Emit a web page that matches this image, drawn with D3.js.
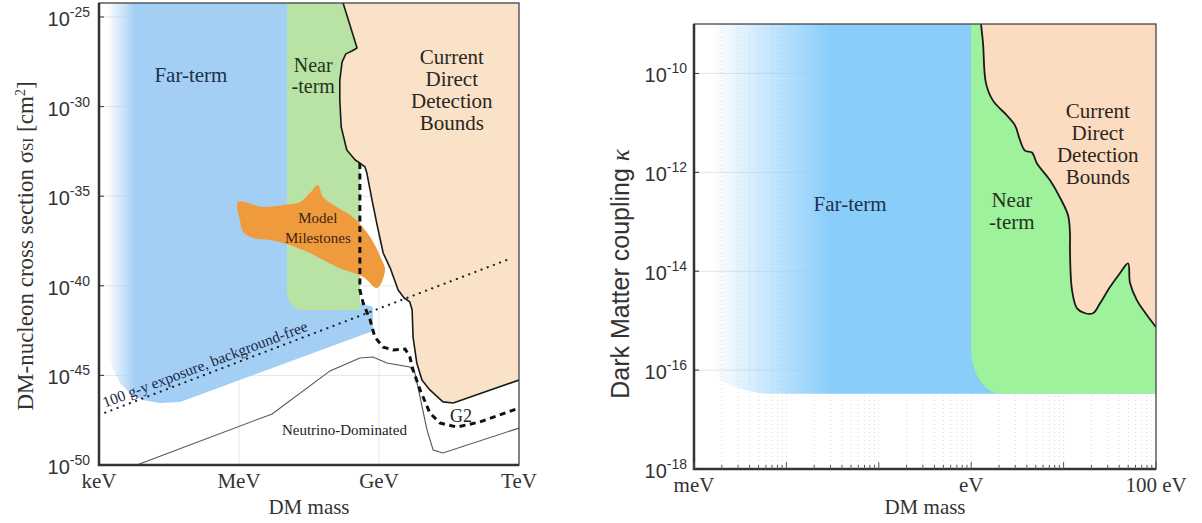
<!DOCTYPE html>
<html>
<meta charset="utf-8" />
<style>
body { margin: 0; background: #fff; }
text { font-family: "Liberation Serif", "Times New Roman", serif; }
.sans { font-family: "Liberation Sans", Arial, sans-serif; }
</style>
<svg width="1202" height="523"></svg>
<script src="https://d3js.org/d3.v7.min.js"></script>
<script>
// ---------- data (all values are log10) ----------
// left panel: DM mass in eV, cross section in cm^2
var leftMassTicks = [3, 6, 9, 12];
var leftMassLabels = ["keV", "MeV", "GeV", "TeV"];
var leftSigmaTicks = [-25, -30, -35, -40, -45, -50];
var leftDomainX = [3, 12];
var leftDomainY = [-50, -24.22];

var currentBoundsLeft = [[8.23,-24.22],[8.53,-26.73],[8.42,-26.90],[8.29,-27.06],[8.21,-27.51],[8.16,-28.52],
  [8.16,-29.63],[8.19,-31.14],[8.31,-32.42],[8.49,-32.98],[8.59,-33.15],[8.70,-33.37],[8.74,-33.71],
  [8.85,-35.21],[8.96,-36.61],[9.09,-38.17],[9.24,-39.01],[9.41,-40.23],[9.54,-40.68],[9.66,-40.90],
  [9.71,-41.35],[9.73,-42.86],[9.81,-44.31],[9.92,-45.26],[10.09,-45.81],[10.37,-46.48],[10.59,-46.54],
  [12,-45.26]];
var g2Line = [[8.59,-33.15],[8.59,-40.23],[8.66,-40.96],[8.81,-41.91],[8.91,-42.86],[9.09,-43.42],
  [9.30,-43.58],[9.56,-43.53],[9.66,-43.97],[9.73,-44.70],[9.88,-45.81],[10.09,-47.10],[10.31,-47.66],
  [10.67,-47.88],[11.16,-47.60],[12,-46.82]];
var neutrinoLine = [[3.81,-50],[6.71,-47.15],[7.95,-44.75],[8.59,-44.03],[8.87,-43.97],[9.17,-44.31],
  [9.66,-44.53],[9.77,-44.87],[10.03,-48.05],[10.16,-49.16],[10.37,-49.33],[12,-47.94]];
var milestones = [[5.98,-35.32],[6.51,-35.60],[6.94,-35.49],[7.31,-35.32],[7.52,-34.82],[7.69,-34.37],
  [7.80,-35.04],[8.10,-35.60],[8.44,-36.16],[8.81,-37.28],[9.06,-38.56],[9.13,-39.12],[8.96,-40.12],
  [8.66,-39.51],[8.10,-38.95],[7.52,-38.17],[7.09,-37.72],[6.66,-37.44],[6.30,-37.33],[6.09,-37.00],
  [6.02,-36.33]];
var exposureLine = [[3,-47.21],[11.85,-38.45]];
var farTermLeft = [[3,-24.22],[8.59,-24.22],[8.59,-40.96],[8.87,-41.18],[8.87,-42.52],[4.74,-46.48],
  [4.31,-46.54],[3.94,-46.37],[3.66,-45.98],[3.45,-45.42],[3.30,-44.70],[3.19,-43.86],[3.13,-43.02],
  [3,-43.02]];
var nearTermLeft = [7.03, 8.59, -41.35]; // mass from, mass to, lower sigma

// right panel: DM mass in eV, coupling kappa
var rightMassTicks = [-3, 0, 2];
var rightMassLabels = ["meV", "eV", "100 eV"];
var rightKappaTicks = [-10, -12, -14, -16, -18];
var rightDomainX = [-3, 2];
var rightDomainY = [-18, -9];
var currentBoundsRight = [[0.106,-9.0],[0.128,-9.39],[0.160,-10.20],[0.236,-10.55],[0.387,-10.85],
  [0.474,-11.05],[0.528,-11.35],[0.582,-11.56],[0.658,-11.60],[0.712,-11.82],[0.853,-12.16],
  [0.961,-12.51],[1.048,-12.87],[1.069,-13.23],[1.069,-13.58],[1.091,-14.38],[1.145,-14.75],
  [1.232,-14.85],[1.318,-14.85],[1.394,-14.65],[1.502,-14.32],[1.610,-14.04],[1.697,-13.84],
  [1.719,-14.24],[1.794,-14.59],[1.903,-14.89],[2.0,-15.13]];
var farTermRight = [-3, 2, -16.48];
var nearTermRight = [0, 2, -16.48];

// ---------- setup ----------
var svg = d3.select("svg");
var p10 = function(v) { return Math.pow(10, v); };
var defs = svg.append("defs");

function gradient(id, color, x1, x2) {
  var g = defs.append("linearGradient").attr("id", id)
    .attr("gradientUnits", "userSpaceOnUse")
    .attr("x1", x1).attr("x2", x2).attr("y1", 0).attr("y2", 0);
  g.append("stop").attr("offset", 0).attr("stop-color", color).attr("stop-opacity", 0);
  g.append("stop").attr("offset", 1).attr("stop-color", color).attr("stop-opacity", 1);
}

function roundedBL(x0, x1, y0, y1, rx, ry) {
  return "M" + x0 + "," + y0 + "H" + x1 + "V" + y1 + "H" + (x0 + rx) +
    "A" + rx + "," + ry + " 0 0 1 " + x0 + "," + (y1 - ry) + "Z";
}

function powLabel(g, x, y, exp) {
  var t = g.append("text").attr("class", "sans").attr("x", x).attr("y", y)
    .attr("text-anchor", "end").attr("fill", "#333").attr("font-size", 20);
  t.append("tspan").text("10");
  t.append("tspan").attr("dy", -9).attr("font-size", 14).text(exp);
}

function block(g, lines, x, y, size, color, lh) {
  var t = g.append("text").attr("text-anchor", "middle").attr("font-size", size).attr("fill", color);
  lines.forEach(function(s, i) { t.append("tspan").attr("x", x).attr("y", y + i * lh).text(s); });
  return t;
}

// ================= LEFT PANEL =================
var L = { left: 99, right: 519, top: 3, bottom: 465 };
var xL = d3.scaleLog().domain(leftDomainX.map(p10)).range([L.left, L.right]);
var yL = d3.scaleLog().domain(leftDomainY.map(p10)).range([L.bottom, L.top]);
var lineL = d3.line().x(function(d) { return xL(p10(d[0])); }).y(function(d) { return yL(p10(d[1])); });

gradient("fadeL", "#a3cff4", L.left + 8, L.left + 36);
defs.append("clipPath").attr("id", "clipL").append("rect")
  .attr("x", L.left).attr("y", L.top).attr("width", L.right - L.left).attr("height", L.bottom - L.top);

var gl = svg.append("g");
var pl = gl.append("g").attr("clip-path", "url(#clipL)");

// grid
pl.selectAll(".gx").data(leftMassTicks).enter().append("line")
  .attr("x1", function(d) { return xL(p10(d)); }).attr("x2", function(d) { return xL(p10(d)); })
  .attr("y1", L.top).attr("y2", L.bottom).attr("stroke", "#e6e6e6");
pl.selectAll(".gy").data(leftSigmaTicks).enter().append("line")
  .attr("y1", function(d) { return yL(p10(d)); }).attr("y2", function(d) { return yL(p10(d)); })
  .attr("x1", L.left).attr("x2", L.right).attr("stroke", "#e6e6e6");

// far-term
pl.append("path").attr("d", lineL(farTermLeft) + "Z").attr("fill", "url(#fadeL)");
// near-term
pl.append("path").attr("fill", "#b8e3a4")
  .attr("d", roundedBL(xL(p10(nearTermLeft[0])), xL(p10(nearTermLeft[1])), L.top,
    yL(p10(nearTermLeft[2])), 16, 18));
// current bounds
var boundsArea = currentBoundsLeft.concat([[12, leftDomainY[1]]]);
pl.append("path").attr("d", lineL(boundsArea) + "Z").attr("fill", "#fae2c8");
// model milestones
pl.append("path").attr("d", lineL.curve(d3.curveCatmullRomClosed)(milestones))
  .attr("fill", "#f09a3e");
lineL.curve(d3.curveLinear);

// neutrino floor
pl.append("path").attr("d", lineL(neutrinoLine)).attr("fill", "none")
  .attr("stroke", "#555").attr("stroke-width", 1.1);
// exposure dotted line
pl.append("path").attr("d", lineL(exposureLine)).attr("fill", "none")
  .attr("stroke", "#222").attr("stroke-width", 2.2).attr("stroke-linecap", "round")
  .attr("stroke-dasharray", "0.1,6.5");
// G2 dashed
pl.append("path").attr("d", lineL(g2Line)).attr("fill", "none")
  .attr("stroke", "#111").attr("stroke-width", 3).attr("stroke-dasharray", "6,4.5");
// bounds edge
pl.append("path").attr("d", lineL(currentBoundsLeft)).attr("fill", "none")
  .attr("stroke", "#1a1a1a").attr("stroke-width", 1.6).attr("stroke-linejoin", "round");

// labels inside left panel
block(gl, ["Far-term"], xL(p10(4.97)), yL(p10(-28.63)), 21, "#22304a", 0);
block(gl, ["Near", "-term"], xL(p10(7.59)), yL(p10(-28.07)), 20, "#24331f", 21);
block(gl, ["Current", "Direct", "Detection", "Bounds"], xL(p10(10.56)), yL(p10(-27.62)), 21, "#2b2520", 22);
block(gl, ["Model", "Milestones"], xL(p10(7.69)), yL(p10(-36.5)), 15, "#3a2412", 20);
gl.append("text").attr("x", xL(p10(6.92))).attr("y", yL(p10(-48.33)))
  .attr("font-size", 15).attr("fill", "#222").text("Neutrino-Dominated");
gl.append("text").attr("x", xL(p10(10.52))).attr("y", yL(p10(-47.6)))
  .attr("font-size", 18).attr("fill", "#222").text("G2");

var e0 = [xL(p10(exposureLine[0][0])), yL(p10(exposureLine[0][1]))];
var e1 = [xL(p10(exposureLine[1][0])), yL(p10(exposureLine[1][1]))];
var ang = Math.atan2(e1[1] - e0[1], e1[0] - e0[0]) * 180 / Math.PI;
var slope = (e1[1] - e0[1]) / (e1[0] - e0[0]);
gl.append("text")
  .attr("transform", "translate(" + (e0[0] + 6) + "," + (e0[1] + slope * 6 - 5) + ") rotate(" + ang + ")")
  .attr("font-size", 15.5).attr("fill", "#1c2748").text("100 g-y exposure, background-free");

// frame + ticks
gl.append("rect").attr("x", L.left).attr("y", L.top).attr("width", L.right - L.left)
  .attr("height", L.bottom - L.top).attr("fill", "none").attr("stroke", "#444").attr("stroke-width", 1.3);
gl.append("path").attr("d", "M" + L.left + "," + L.top + "V" + L.bottom + "H" + L.right)
  .attr("fill", "none").attr("stroke", "#333").attr("stroke-width", 2.5);
gl.selectAll(".ty").data(leftSigmaTicks).enter().append("line")
  .attr("x1", L.left).attr("x2", L.left + 5)
  .attr("y1", function(d) { return yL(p10(d)); }).attr("y2", function(d) { return yL(p10(d)); })
  .attr("stroke", "#333");
leftSigmaTicks.forEach(function(d) { powLabel(gl, L.left - 9, yL(p10(d)) + 9, String(d)); });
gl.selectAll(".lx").data(leftMassTicks).enter().append("text")
  .attr("x", function(d) { return xL(p10(d)); }).attr("y", 488).attr("text-anchor", "middle")
  .attr("font-size", 21).attr("fill", "#333").text(function(d, i) { return leftMassLabels[i]; });
gl.append("text").attr("x", (L.left + L.right) / 2).attr("y", 514).attr("text-anchor", "middle")
  .attr("font-size", 21).attr("fill", "#333").text("DM mass");
var yt = gl.append("text").attr("transform", "translate(33," + ((L.top + L.bottom) / 2 + 12) + ") rotate(-90)")
  .attr("text-anchor", "middle").attr("font-size", 23).attr("fill", "#333");
yt.append("tspan").text("DM-nucleon cross section σ");
yt.append("tspan").attr("font-size", 15).text("SI");
yt.append("tspan").text(" [cm");
yt.append("tspan").attr("font-size", 14).attr("dy", -8).text("2");
yt.append("tspan").attr("dy", 8).text("]");

// ================= RIGHT PANEL =================
var R = { left: 694, right: 1156, top: 24, bottom: 469 };
var xR = d3.scaleLog().domain(rightDomainX.map(p10)).range([R.left, R.right]);
var yR = d3.scaleLog().domain(rightDomainY.map(p10)).range([R.bottom, R.top]);
var lineR = d3.line().curve(d3.curveCatmullRom)
  .x(function(d) { return xR(p10(d[0])); }).y(function(d) { return yR(p10(d[1])); });

gradient("fadeR", "#89cdfb", R.left + 18, R.left + 136);
defs.append("clipPath").attr("id", "clipR").append("rect")
  .attr("x", R.left).attr("y", R.top).attr("width", R.right - R.left).attr("height", R.bottom - R.top);

var gr = svg.append("g");
var pr = gr.append("g").attr("clip-path", "url(#clipR)");

// minor dotted grid
var minors = [];
for (var k = rightDomainX[0]; k < rightDomainX[1]; k++)
  for (var m = 1; m < 10; m++) minors.push(m * p10(k));
minors.push(p10(rightDomainX[1]));
pr.selectAll(".gx").data(minors).enter().append("line")
  .attr("x1", function(d) { return xR(d); }).attr("x2", function(d) { return xR(d); })
  .attr("y1", R.top).attr("y2", R.bottom).attr("stroke", "#d8d8d8").attr("stroke-dasharray", "1,3");
pr.selectAll(".gy").data(rightKappaTicks).enter().append("line")
  .attr("y1", function(d) { return yR(p10(d)); }).attr("y2", function(d) { return yR(p10(d)); })
  .attr("x1", R.left).attr("x2", R.right).attr("stroke", "#e4e4e4");

pr.append("path").attr("fill", "url(#fadeR)")
  .attr("d", roundedBL(xR(p10(farTermRight[0])), xR(p10(farTermRight[1])), R.top,
    yR(p10(farTermRight[2])), 80, 55));
pr.append("path").attr("fill", "#9ef29b")
  .attr("d", roundedBL(xR(p10(nearTermRight[0])), xR(p10(nearTermRight[1])), R.top,
    yR(p10(nearTermRight[2])), 30, 45));
var boundsR = currentBoundsRight.concat([[2, rightDomainY[1]]]);
pr.append("path").attr("d", lineR(boundsR) + "Z").attr("fill", "#fcdcc0");
pr.append("path").attr("d", lineR(currentBoundsRight)).attr("fill", "none")
  .attr("stroke", "#1a1a1a").attr("stroke-width", 1.8).attr("stroke-linejoin", "round");

block(gr, ["Far-term"], xR(p10(-1.31)), yR(p10(-12.79)), 21, "#22304a", 0);
block(gr, ["Near", "-term"], xR(p10(0.44)), yR(p10(-12.71)), 21, "#24331f", 22);
block(gr, ["Current", "Direct", "Detection", "Bounds"], xR(p10(1.37)), yR(p10(-10.91)), 21, "#2b2520", 22);

gr.append("rect").attr("x", R.left).attr("y", R.top).attr("width", R.right - R.left)
  .attr("height", R.bottom - R.top).attr("fill", "none").attr("stroke", "#444").attr("stroke-width", 1.3);
gr.append("path").attr("d", "M" + R.left + "," + R.top + "V" + R.bottom + "H" + R.right)
  .attr("fill", "none").attr("stroke", "#333").attr("stroke-width", 2.5);
gr.selectAll(".tm").data(minors).enter().append("line")
  .attr("x1", function(d) { return xR(d); }).attr("x2", function(d) { return xR(d); })
  .attr("y1", R.bottom).attr("y2", function(d) {
    return R.bottom - (Math.abs(Math.log10(d) - Math.round(Math.log10(d))) < 1e-9 ? 7 : 4); })
  .attr("stroke", "#555");
gr.selectAll(".ty").data(rightKappaTicks).enter().append("line")
  .attr("x1", R.left).attr("x2", R.left + 5)
  .attr("y1", function(d) { return yR(p10(d)); }).attr("y2", function(d) { return yR(p10(d)); })
  .attr("stroke", "#333");
rightKappaTicks.forEach(function(d) { powLabel(gr, R.left - 7, yR(p10(d)) + 9, String(d)); });
gr.selectAll(".lx").data(rightMassTicks).enter().append("text")
  .attr("x", function(d) { return xR(p10(d)); }).attr("y", 492).attr("text-anchor", "middle")
  .attr("font-size", 21).attr("fill", "#333").text(function(d, i) { return rightMassLabels[i]; });
gr.append("text").attr("x", (R.left + R.right) / 2).attr("y", 514).attr("text-anchor", "middle")
  .attr("font-size", 21).attr("fill", "#333").text("DM mass");
var ytr = gr.append("text").attr("class", "sans")
  .attr("transform", "translate(629,274) rotate(-90)")
  .attr("text-anchor", "middle").attr("font-size", 25).attr("fill", "#333");
ytr.append("tspan").text("Dark Matter coupling ");
ytr.append("tspan").attr("font-family", "Liberation Serif, serif").attr("font-style", "italic").text("κ");
</script>
</html>
